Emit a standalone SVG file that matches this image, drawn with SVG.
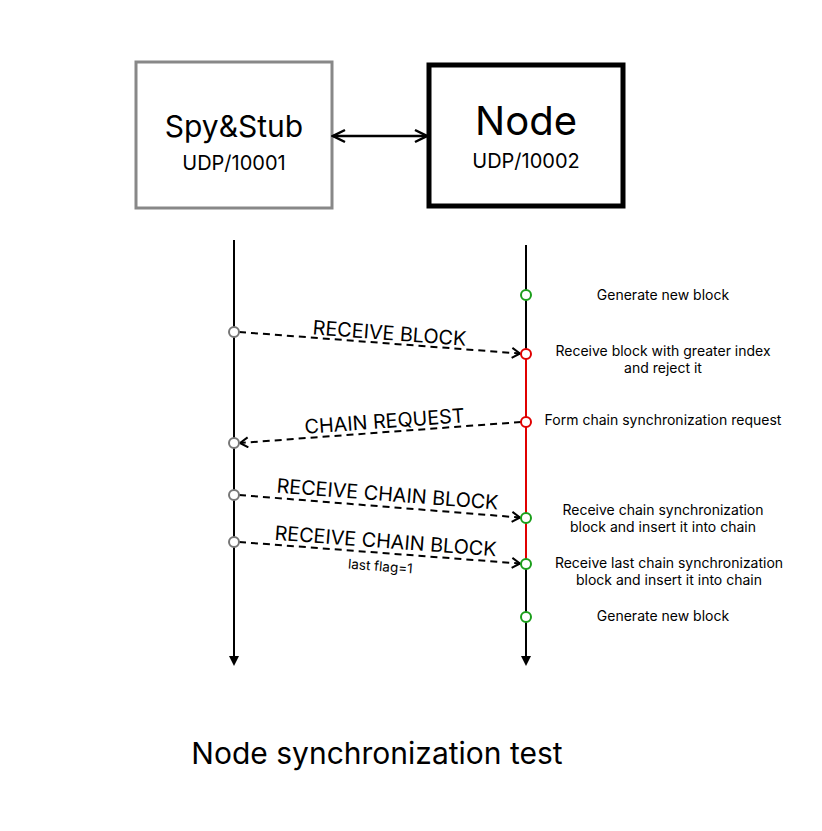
<svg xmlns="http://www.w3.org/2000/svg" width="822" height="831" viewBox="0 0 822 831">
<style>
text{font-family:Inter,"Noto Sans","Liberation Sans",sans-serif;fill:#000;text-anchor:middle}
.msg{font-size:19.8px}
.note{font-size:14px}
.dash{stroke:#000;stroke-width:2;stroke-dasharray:7 5;fill:none}
.life{stroke:#000;stroke-width:2;fill:none}
.cg{fill:#fff;stroke:#777;stroke-width:2}
.cgr{fill:#fff;stroke:#1a9e1a;stroke-width:2}
.cr{fill:#fff;stroke:#e00000;stroke-width:2}
</style>
<defs>
<marker id="open" viewBox="0 0 12 12" refX="10" refY="6" markerWidth="12" markerHeight="12" markerUnits="userSpaceOnUse" orient="auto-start-reverse">
<path d="M2,1 L10,6 L2,11" fill="none" stroke="#000" stroke-width="2"/>
</marker>
<marker id="big" viewBox="0 0 16 16" refX="14" refY="8" markerWidth="16" markerHeight="16" markerUnits="userSpaceOnUse" orient="auto-start-reverse">
<path d="M2,2 L14,8 L2,14" fill="none" stroke="#000" stroke-width="2.5"/>
</marker>
</defs>
<rect width="822" height="831" fill="#fff"/>
<g id="spy">
<rect x="136" y="62" width="196" height="146" fill="#fff" stroke="#888" stroke-width="3"/>
<text x="234" y="137" font-size="30">Spy&amp;Stub</text>
<text x="234" y="170" font-size="20">UDP/10001</text>
</g>
<g id="node">
<rect x="429" y="65" width="194" height="141" fill="#fff" stroke="#000" stroke-width="5"/>
<text x="526" y="135" font-size="40">Node</text>
<text x="526" y="168" font-size="20">UDP/10002</text>
</g>
<g id="connectors">
<line x1="333" y1="136" x2="427" y2="136" stroke="#000" stroke-width="2.5" marker-start="url(#big)" marker-end="url(#big)"/>
<line class="life" x1="234" y1="240" x2="234" y2="656"/>
<path d="M229,656 L239,656 L234,666 Z" fill="#000"/>
<line class="life" x1="526" y1="245" x2="526" y2="354"/>
<line x1="526" y1="354" x2="526" y2="564" stroke="#e00000" stroke-width="2"/>
<line class="life" x1="526" y1="564" x2="526" y2="656"/>
<path d="M521,656 L531,656 L526,666 Z" fill="#000"/>
<line class="dash" x1="239" y1="332" x2="520" y2="353.5" marker-end="url(#open)"/>
<line class="dash" x1="521" y1="422" x2="240" y2="443" marker-end="url(#open)"/>
<line class="dash" x1="239" y1="495" x2="520" y2="517.5" marker-end="url(#open)"/>
<line class="dash" x1="239" y1="542" x2="520" y2="563.5" marker-end="url(#open)"/>
</g>
<g id="events">
<circle class="cg" cx="234" cy="332" r="5"/>
<circle class="cg" cx="234" cy="443" r="5"/>
<circle class="cg" cx="234" cy="495" r="5"/>
<circle class="cg" cx="234" cy="542" r="5"/>
<circle class="cgr" cx="526" cy="295" r="5"/>
<circle class="cr" cx="526" cy="354" r="5"/>
<circle class="cr" cx="526" cy="422" r="5"/>
<circle class="cgr" cx="526" cy="518" r="5"/>
<circle class="cgr" cx="526" cy="564" r="5"/>
<circle class="cgr" cx="526" cy="617" r="5"/>
</g>
<g id="labels">
<text class="msg" transform="translate(389,340) rotate(4.3)">RECEIVE BLOCK</text>
<text class="msg" transform="translate(385,428) rotate(-4.1)">CHAIN REQUEST</text>
<text class="msg" transform="translate(387,501) rotate(4.4)">RECEIVE CHAIN BLOCK</text>
<text class="msg" transform="translate(385,548) rotate(4.3)">RECEIVE CHAIN BLOCK</text>
<text font-size="13.5" transform="translate(380,571) rotate(4.3)">last flag=1</text>
</g>
<g id="notes">
<text class="note" x="663" y="300">Generate new block</text>
<text class="note" x="663" y="356">Receive block with greater index</text>
<text class="note" x="663" y="373">and reject it</text>
<text class="note" x="663" y="425">Form chain synchronization request</text>
<text class="note" x="663" y="515">Receive chain synchronization</text>
<text class="note" x="663" y="532">block and insert it into chain</text>
<text class="note" x="669" y="568">Receive last chain synchronization</text>
<text class="note" x="669" y="585">block and insert it into chain</text>
<text class="note" x="663" y="621">Generate new block</text>
</g>
<text x="377" y="764" font-size="30">Node synchronization test</text>
</svg>
